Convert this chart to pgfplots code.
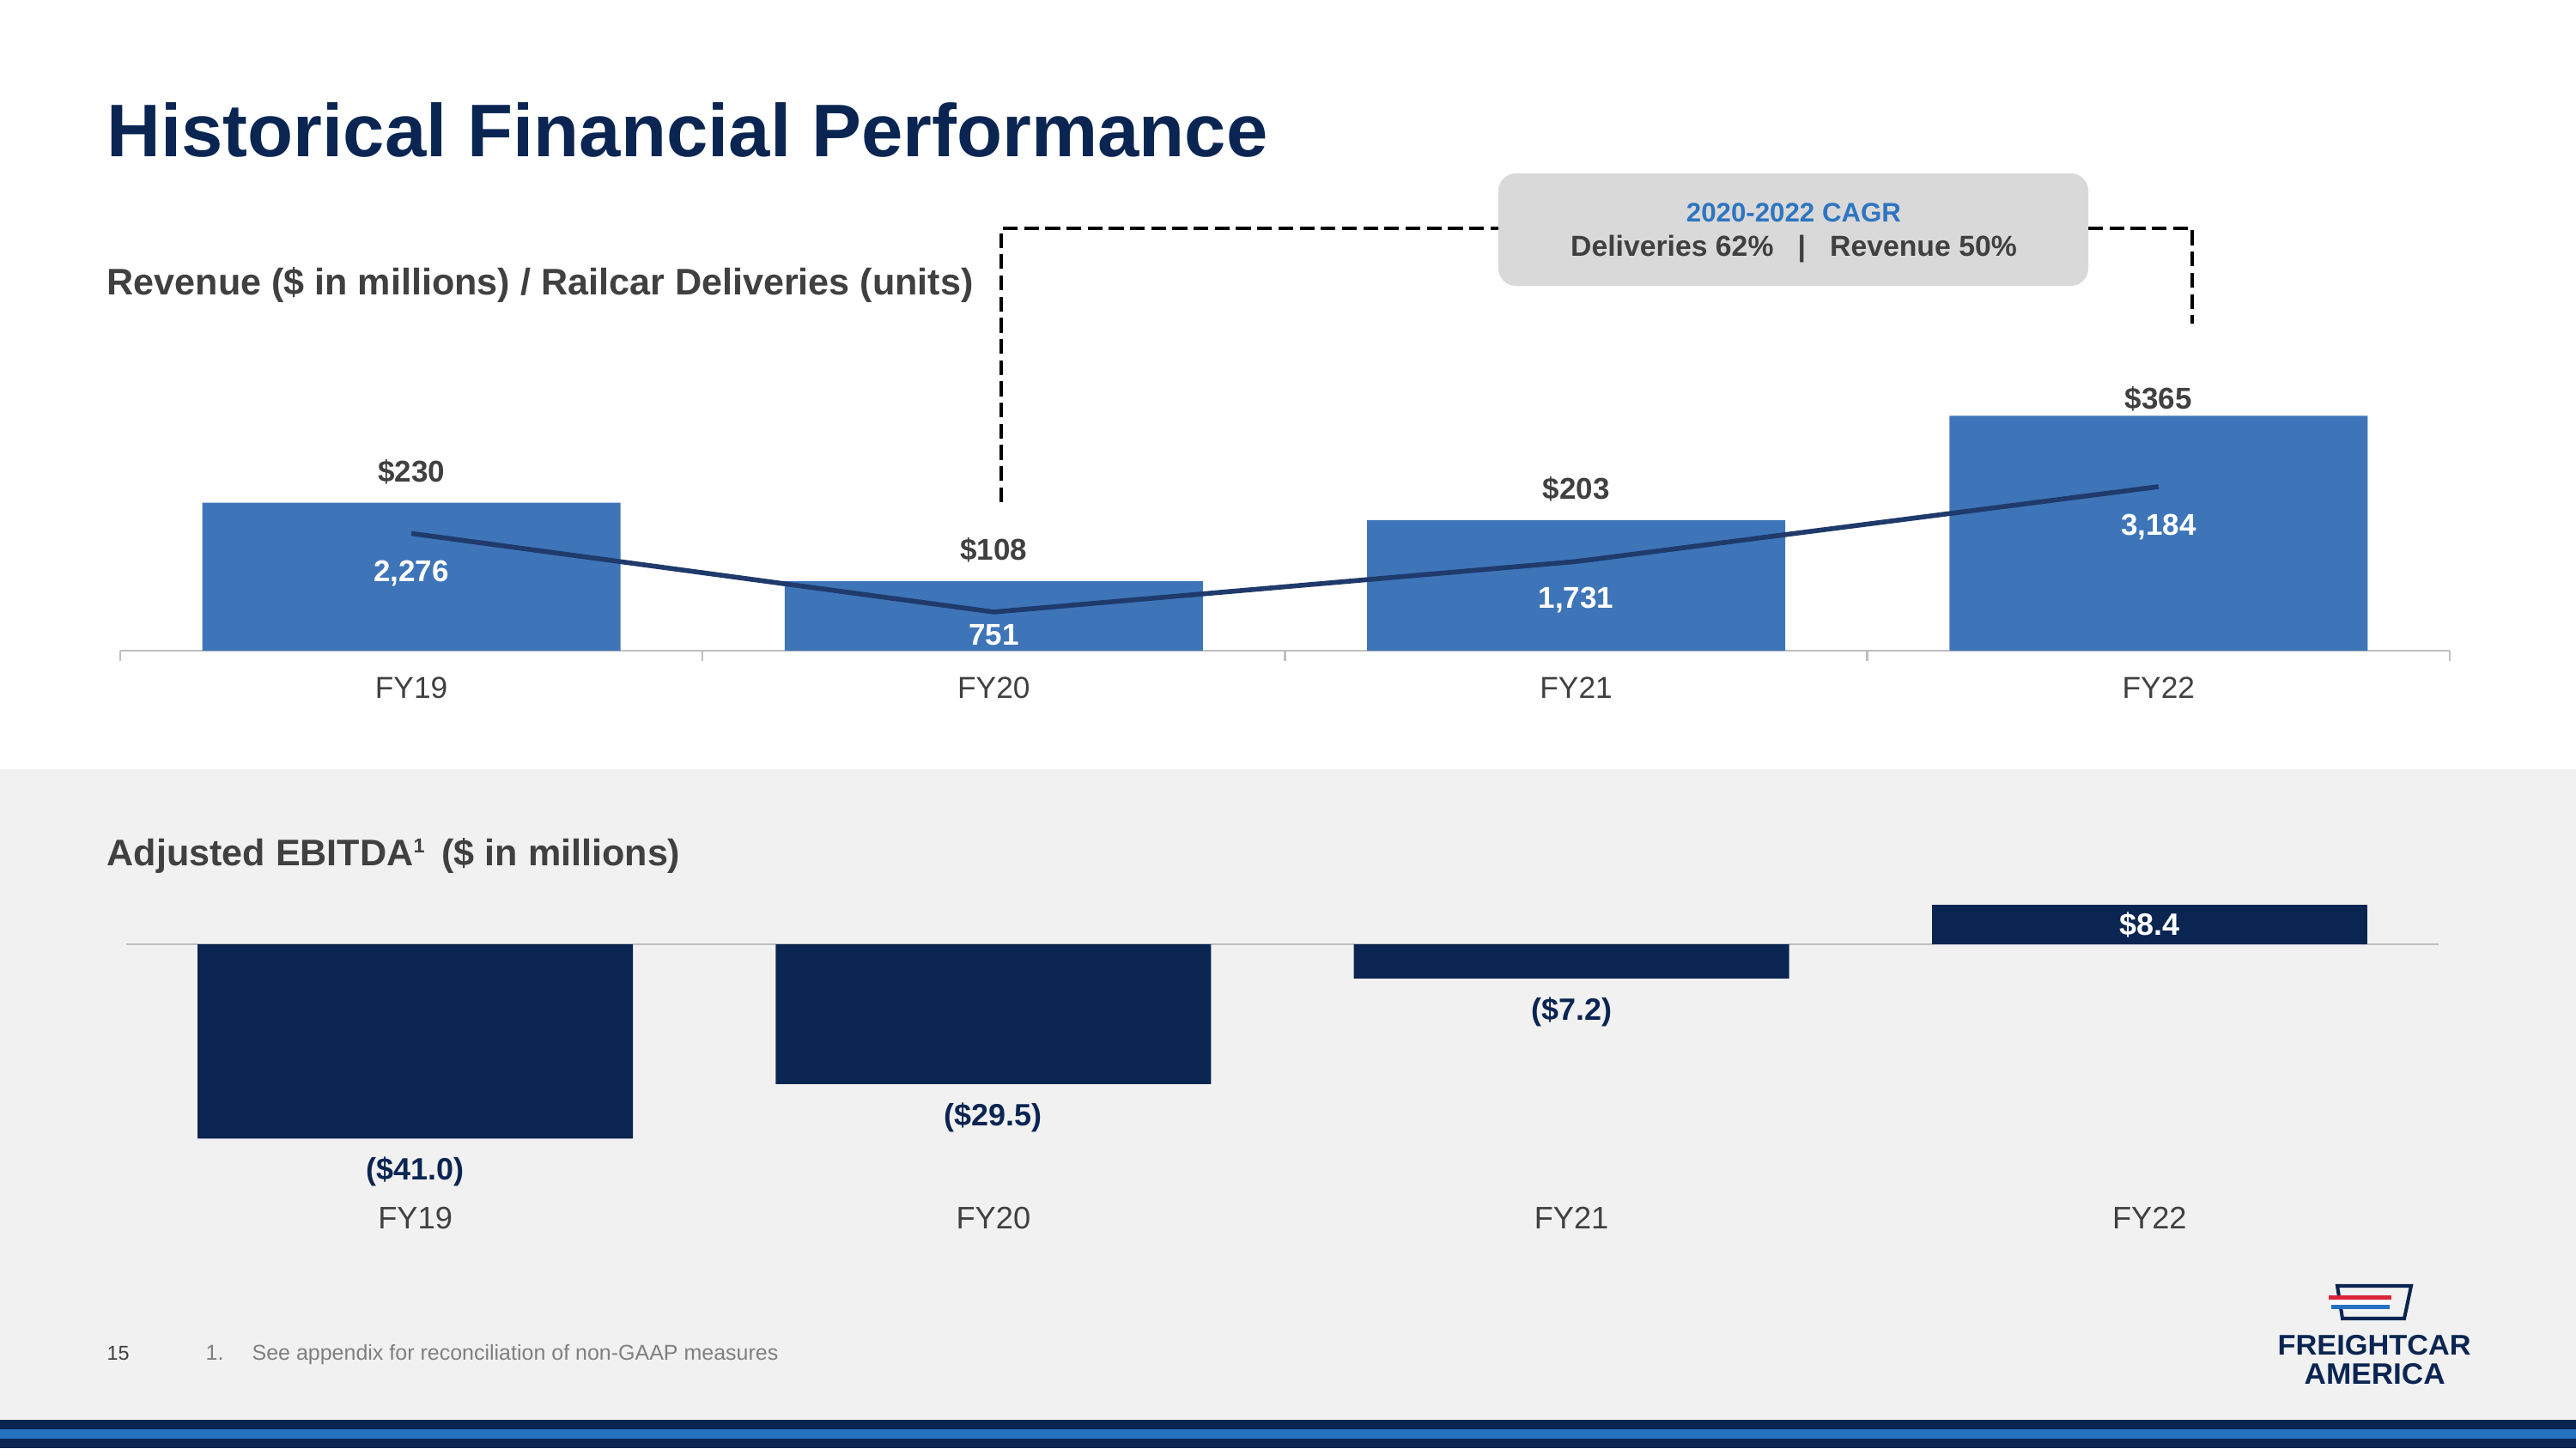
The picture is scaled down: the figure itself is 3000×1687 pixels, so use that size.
\documentclass[border=0pt]{standalone}
\usepackage{fontspec}
\setmainfont{Liberation Sans}
\usepackage{graphicx}
\usepackage{pgfplots}
\pgfplotsset{compat=1.18}
\usepackage{pgfplotstable}

\definecolor{navy}{RGB}{10,37,82}
\definecolor{barblue}{RGB}{62,117,185}
\definecolor{linenavy}{RGB}{31,58,107}
\definecolor{labelgray}{RGB}{64,64,64}
\definecolor{axisgray}{RGB}{191,191,191}
\definecolor{bandgray}{RGB}{241,241,241}
\definecolor{boxgray}{RGB}{217,217,217}
\definecolor{cagrblue}{RGB}{46,117,192}
\definecolor{stripeblue}{RGB}{36,114,192}
\definecolor{footgray}{RGB}{127,127,127}
\definecolor{logored}{RGB}{218,37,58}

% revenue ($M) with label lift (pt), railcar deliveries (units) with label drop (pt)
\pgfplotstableread{
x rev up del dy
0 230 7.7 2276 17.8
1 108 7.7 751 12.2
2 203 7.7 1731 17.5
3 365 2.4 3184 18.2
}\revtable

% adjusted EBITDA ($M)
\pgfplotstableread{
x ebitda
0 -41.0
1 -29.5
2 -7.2
}\ebitdaneg
\pgfplotstableread{
x ebitda
3 8.4
}\ebitdapos

\newcommand{\fs}[1]{\fontsize{#1}{#1}\selectfont}

\begin{document}
\begin{tikzpicture}[x=0.32pt, y=-0.32pt]
\useasboundingbox (0,0) rectangle (3000,1687);
% slide background
\fill[white] (0,0) rectangle (3000,896);
\fill[bandgray] (0,896) rectangle (3000,1654);
\fill[navy] (0,1654) rectangle (3000,1665);
\fill[stripeblue] (0,1665) rectangle (3000,1676);
\fill[navy] (0,1676) rectangle (3000,1687);

% headings
\node[anchor=base west, inner sep=0, text=navy, font=\fs{27.8}\bfseries] at (124,182) {Historical Financial Performance};
\node[anchor=base west, inner sep=0, text=labelgray, font=\fs{13.8}\bfseries] at (124,343) {Revenue (\$ in millions) / Railcar Deliveries (units)};
\node[anchor=base west, inner sep=0, text=labelgray, font=\fs{13.8}\bfseries] at (124,1008) {Adjusted EBITDA{\fs{7.5}\raisebox{4.6pt}{1}}\hspace{2.5pt} (\$ in millions)};

% CAGR callout
\draw[black, line width=1.4pt, dash pattern=on 5.5pt off 2.4pt] (1166,585) -- (1166,266) -- (1745,266);
\draw[black, line width=1.4pt, dash pattern=on 5.5pt off 2.4pt] (2432,266) -- (2553,266) -- (2553,377);
\fill[boxgray, rounded corners=6.5pt] (1745,202) rectangle (2432,333);
\node[anchor=base, inner sep=0, text=cagrblue, font=\fs{10}\bfseries] at (2089,258) {2020-2022 CAGR};
\node[anchor=base, inner sep=0, text=labelgray, font=\fs{10.8}\bfseries] at (2089,298) {Deliveries 62\%\hspace{9pt}|\hspace{9pt}Revenue 50\%};

% footer
\node[anchor=base west, inner sep=0, text=labelgray, font=\fs{7.5}] at (124,1584) {15};
\node[anchor=base west, inner sep=0, text=footgray, font=\fs{8}] at (239,1584) {1.};
\node[anchor=base west, inner sep=0, text=footgray, font=\fs{8}] at (293,1584) {See appendix for reconciliation of non-GAAP measures};

% logo
\draw[navy, line width=1.3pt, line join=miter] (2722,1498) -- (2808,1498) -- (2800,1536) -- (2728,1536) -- cycle;
\fill[white] (2714,1513) rectangle (2785,1521);
\fill[logored] (2712,1509) rectangle (2785,1514);
\fill[stripeblue] (2715,1520) rectangle (2783,1525);
\node[anchor=base west, inner sep=0, text=navy] at (2652,1578) {\resizebox{72pt}{7.4pt}{\bfseries FREIGHTCAR}};
\node[anchor=base west, inner sep=0, text=navy] at (2683,1612) {\resizebox{52.5pt}{7.7pt}{\bfseries AMERICA}};

% revenue bars
\begin{axis}[
  at={(44.8pt,-242.56pt)}, anchor=south west,
  scale only axis, width=868.16pt, height=96pt,
  xmin=-0.5, xmax=3.5, ymin=0, ymax=400,
  axis x line*=bottom, axis y line=none,
  x axis line style={draw=axisgray, line width=0.8pt},
  xtick={0,1,2,3}, xticklabels={FY19,FY20,FY21,FY22},
  minor xtick={-0.5,0.5,1.5,2.5,3.5},
  xtick align=outside,
  major tick length=0pt, minor tick length=3.8pt,
  minor tick style={draw=axisgray, line width=0.8pt},
  xticklabel style={anchor=base, yshift=-17.6pt, text=labelgray, font=\fs{11.3}},
  /pgf/number format/assume math mode=true,
  clip=false,
]
\addplot[ybar, bar width=155.8pt, bar shift=0pt, fill=barblue, draw=none,
  point meta=y,
  visualization depends on={\thisrow{up} \as \labup},
  nodes near coords={\$\pgfmathprintnumber{\pgfplotspointmeta}},
  every node near coord/.append style={anchor=base, yshift=\labup pt, text=labelgray, font=\fs{11.2}\bfseries},
] table[x=x, y=rev] {\revtable};
\end{axis}

% railcar deliveries line
\begin{axis}[
  at={(44.8pt,-242.56pt)}, anchor=south west,
  scale only axis, width=868.16pt, height=96pt,
  xmin=-0.5, xmax=3.5, ymin=0, ymax=5000,
  hide axis, clip=false,
  /pgf/number format/.cd, 1000 sep={,}, assume math mode=true,
]
\addplot[linenavy, line width=1.8pt, mark=none,
  point meta=y,
  visualization depends on={\thisrow{dy} \as \labdy},
  nodes near coords={\pgfmathprintnumber{\pgfplotspointmeta}},
  every node near coord/.append style={anchor=base, yshift=-\labdy pt, text=white, font=\fs{11.2}\bfseries},
] table[x=x, y=del] {\revtable};
\end{axis}

% adjusted EBITDA bars
\begin{axis}[
  at={(47.04pt,-440.32pt)}, anchor=south west,
  scale only axis, width=861.76pt, height=105.98pt,
  xmin=-0.5, xmax=3.5, ymin=-50, ymax=10,
  axis x line*=bottom, axis y line=none,
  x axis line style={draw=none},
  xtick={0,1,2,3}, xticklabels={FY19,FY20,FY21,FY22},
  major tick length=0pt,
  xticklabel style={anchor=base, yshift=-17.9pt, text=labelgray, font=\fs{11.6}},
  /pgf/number format/assume math mode=true,
  clip=false,
]
\draw[axisgray, line width=0.8pt] (axis cs:-0.5,0) -- (axis cs:3.5,0);
\addplot[ybar, bar width=162.2pt, bar shift=0pt, fill=navy, draw=none,
  point meta={-\thisrow{ebitda}},
  nodes near coords={(\$\pgfmathprintnumber[fixed,fixed zerofill,precision=1]{\pgfplotspointmeta})},
  every node near coord/.append style={anchor=base, yshift=-15.5pt, text=navy, font=\fs{11.5}\bfseries},
] table[x=x, y=ebitda] {\ebitdaneg};
\addplot[ybar, bar width=162.2pt, bar shift=0pt, fill=navy, draw=none,
  point meta=y,
  nodes near coords={\$\pgfmathprintnumber[fixed,fixed zerofill,precision=1]{\pgfplotspointmeta}},
  every node near coord/.append style={anchor=base, yshift=-11.5pt, text=white, font=\fs{11.5}\bfseries},
] table[x=x, y=ebitda] {\ebitdapos};
\end{axis}
\end{tikzpicture}
\end{document}
